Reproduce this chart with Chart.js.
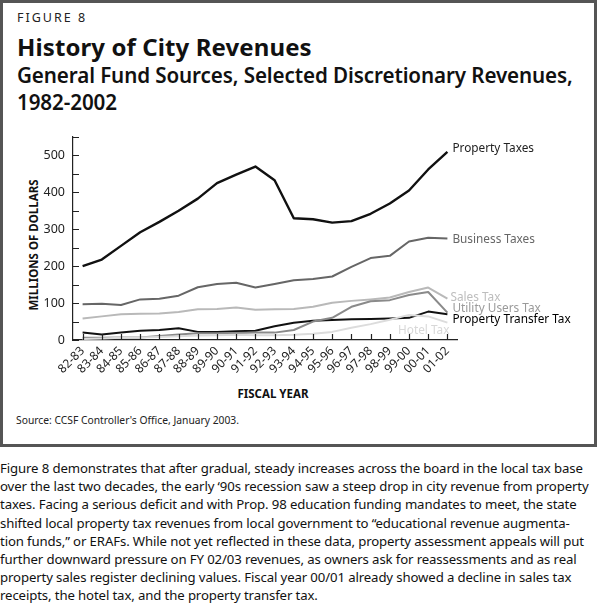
<!DOCTYPE html>
<html>
<head>
<meta charset="utf-8">
<script src="https://cdn.jsdelivr.net/npm/chart.js@4.4.1/dist/chart.umd.min.js"></script>
<style>
	body { margin: 0; width: 600px; height: 605px; background: #fff; font-family: "Noto Sans", sans-serif; color: #111; position: relative; overflow: hidden; }
	.box { position: absolute; left: 0; top: 0; width: 591px; height: 441px; border: 3px solid #555; }
	.t { position: absolute; white-space: nowrap; }
	#fig { left: 17px; top: 9px; font-size: 12.5px; letter-spacing: 2px; color: #222; }
	#title { left: 17px; top: 30px; font-size: 24px; font-weight: 700; letter-spacing: 0.1px; }
	#sub { left: 17px; top: 62px; font-size: 20.6px; font-weight: 600; line-height: 27px; letter-spacing: -0.1px; }
	#ytitle { left: 33px; top: 245px; font-size: 11.5px; font-weight: 700; transform: translate(-50%, -50%) rotate(-90deg); }
	#xtitle { left: 273px; top: 393px; font-size: 11.5px; font-weight: 700; transform: translate(-50%, -50%); }
	#src { left: 16px; top: 413px; font-size: 10.3px; color: #222; }
	#para { left: 0; top: 459px; font-size: 13.2px; line-height: 18.2px; letter-spacing: -0.12px; color: #111; }
	#wrap { position: absolute; left: 0; top: 120px; width: 600px; height: 290px; }
</style>
</head>
<body>
<div class="box"></div>
<div class="t" id="fig">FIGURE 8</div>
<div class="t" id="title">History of City Revenues</div>
<div class="t" id="sub">General Fund Sources, Selected Discretionary Revenues,<br>1982-2002</div>
<div class="t" id="ytitle">MILLIONS OF DOLLARS</div>
<div class="t" id="xtitle">FISCAL YEAR</div>
<div class="t" id="src">Source: CCSF Controller's Office, January 2003.</div>
<div class="t" id="para">Figure 8 demonstrates that after gradual, steady increases across the board in the local tax base<br>over the last two decades, the early ‘90s recession saw a steep drop in city revenue from property<br>taxes. Facing a serious deficit and with Prop. 98 education funding mandates to meet, the state<br>shifted local property tax revenues from local government to “educational revenue augmenta-<br>tion funds,” or ERAFs. While not yet reflected in these data, property assessment appeals will put<br>further downward pressure on FY 02/03 revenues, as owners ask for reassessments and as real<br>property sales register declining values. Fiscal year 00/01 already showed a decline in sales tax<br>receipts, the hotel tax, and the property transfer tax.</div>
<div id="wrap"><canvas id="chart"></canvas></div>

<script>
// fiscal years
const years = ["82-83", "83-84", "84-85", "85-86", "86-87", "87-88", "88-89", "89-90", "90-91", "91-92",
	"92-93", "93-94", "94-95", "95-96", "96-97", "97-98", "98-99", "99-00", "00-01", "01-02"];

// millions of dollars
const propertyTaxes = [200, 218, 255, 292, 320, 350, 383, 425, 448, 470, 433, 330, 327, 318, 322, 342, 370, 405, 462, 510];
const businessTaxes = [97, 98, 95, 110, 112, 120, 143, 152, 155, 142, 152, 162, 165, 172, 198, 222, 228, 267, 277, 275];
const salesTax = [58, 64, 70, 71, 72, 76, 83, 84, 88, 82, 83, 84, 90, 101, 106, 110, 115, 130, 142, 112];
const utilityUsersTax = [6, 6, 7, 7, 11, 15, 18, 18, 19, 20, 20, 27, 50, 60, 90, 105, 108, 122, 130, 74];
const propertyTransferTax = [20, 15, 20, 25, 27, 32, 22, 22, 24, 25, 37, 47, 52, 54, 56, 57, 58, 60, 77, 70];
const hotelTax = [3, 4, 6, 7, 8, 10, 12, 13, 14, 13, 13, 14, 17, 22, 33, 43, 55, 68, 64, 47];

const yTicks = [0, 100, 200, 300, 400, 500];

// series label at the end of each line
const endLabels = {
	id: 'endLabels',
	afterDatasetsDraw(chart) {
		const ctx = chart.ctx;
		ctx.save();
		ctx.font = '11.8px "Noto Sans", sans-serif';
		ctx.textBaseline = 'middle';
		chart.data.datasets.forEach((ds, i) => {
			const pts = chart.getDatasetMeta(i).data;
			const p = pts[pts.length - 1];
			ctx.fillStyle = ds.labelColor;
			ctx.textAlign = ds.labelAlign || 'left';
			ctx.fillText(ds.label, p.x + ds.labelDx, p.y + ds.labelDy);
		});
		ctx.restore();
	}
};

// tick marks pointing into the plot
const innerTicks = {
	id: 'innerTicks',
	afterDraw(chart) {
		const ctx = chart.ctx;
		const xs = chart.scales.x, ys = chart.scales.y;
		ctx.save();
		ctx.strokeStyle = '#222';
		ctx.lineWidth = 1.2;
		ctx.beginPath();
		for (let v = 0; v <= 550; v += 50) {
			const y = Math.round(ys.getPixelForValue(v)) + 0.5;
			ctx.moveTo(xs.left, y);
			ctx.lineTo(xs.left + 6, y);
		}
		years.forEach((c, i) => {
			const x = Math.round(xs.getPixelForValue(i)) + 0.5;
			ctx.moveTo(x, ys.bottom);
			ctx.lineTo(x, ys.bottom - 6);
		});
		ctx.stroke();
		ctx.restore();
	}
};

document.addEventListener("DOMContentLoaded", function () {
	new Chart(document.getElementById("chart"), {
		type: 'line',
		data: {
			labels: years,
			datasets: [
				{ label: 'Hotel Tax', data: hotelTax, borderColor: '#dcdcdc', borderWidth: 2,
					labelColor: '#d8d8d8', labelAlign: 'right', labelDx: 2, labelDy: 8 },
				{ label: 'Utility Users Tax', data: utilityUsersTax, borderColor: '#8a8a8a', borderWidth: 2,
					labelColor: '#9a9a9a', labelDx: 5, labelDy: -4 },
				{ label: 'Sales Tax', data: salesTax, borderColor: '#b9b9b9', borderWidth: 2,
					labelColor: '#bdbdbd', labelDx: 3, labelDy: -1 },
				{ label: 'Business Taxes', data: businessTaxes, borderColor: '#666', borderWidth: 2,
					labelColor: '#666', labelDx: 5, labelDy: 1 },
				{ label: 'Property Transfer Tax', data: propertyTransferTax, borderColor: '#111', borderWidth: 2,
					labelColor: '#000', labelDx: 5, labelDy: 5 },
				{ label: 'Property Taxes', data: propertyTaxes, borderColor: '#111', borderWidth: 2.4,
					labelColor: '#222', labelDx: 5, labelDy: -3 }
			]
		},
		options: {
			responsive: true,
			maintainAspectRatio: false,
			animation: false,
			layout: { padding: { left: 0, top: 17, right: 143, bottom: 0 } },
			elements: {
				point: { radius: 0 },
				line: { tension: 0, borderJoinStyle: 'round' }
			},
			plugins: {
				legend: { display: false },
				tooltip: { enabled: false }
			},
			scales: {
				x: {
					offset: true,
					afterFit: (s) => { s.height = 70; },
					grid: { display: false, drawTicks: false },
					border: { display: true, color: '#222', width: 1.2 },
					ticks: {
						autoSkip: false,
						minRotation: 45,
						maxRotation: 45,
						padding: 4,
						color: '#222',
						font: { family: '"Noto Sans", sans-serif', size: 12 }
					}
				},
				y: {
					min: 0,
					max: 550,
					afterFit: (s) => { s.width = 73; },
					afterBuildTicks: (s) => { s.ticks = yTicks.map((v) => ({ value: v })); },
					grid: { display: false, drawTicks: false },
					border: { display: true, color: '#222', width: 1.2 },
					ticks: {
						padding: 8,
						color: '#222',
						font: { family: '"Noto Sans", sans-serif', size: 12.5 }
					}
				}
			}
		},
		plugins: [endLabels, innerTicks]
	});
});
</script>
</body>
</html>
